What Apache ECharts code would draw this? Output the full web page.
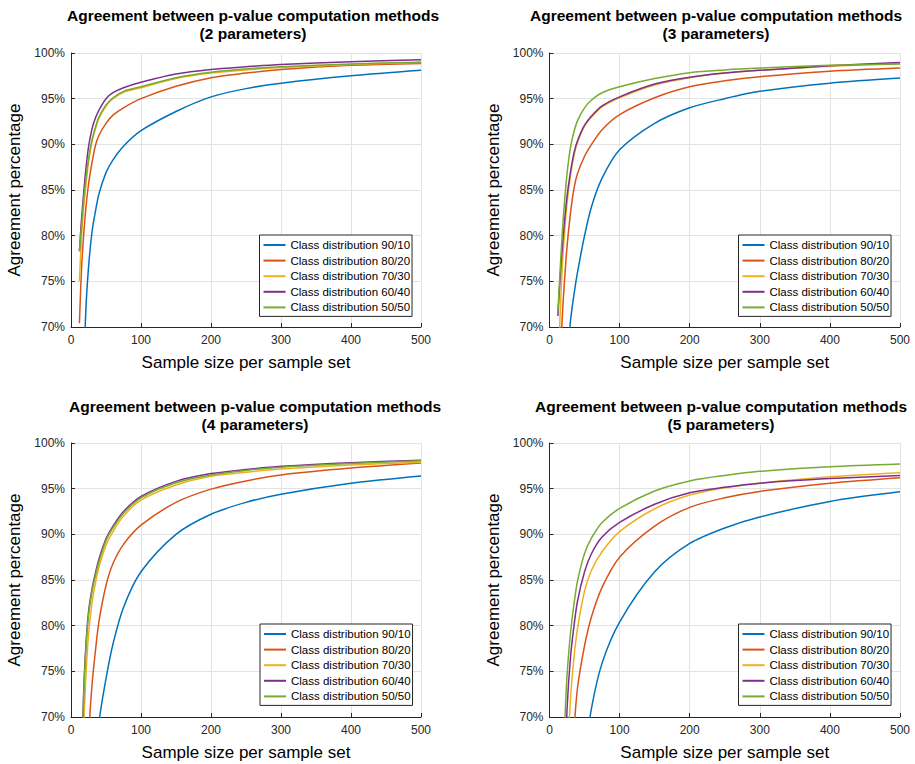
<!DOCTYPE html>
<html>
<head>
<meta charset="utf-8">
<script src="https://cdn.jsdelivr.net/npm/echarts@6/dist/echarts.min.js"></script>
<style>
html,body{margin:0;padding:0;background:#ffffff;}
#chart{width:915px;height:764px;}
</style>
</head>
<body>
<div id="chart"></div>
<script>
// ---------------- DATA ----------------
const sampleSizes = [12, 15, 18, 21, 25, 30, 35, 40, 50, 60, 75, 100, 150, 200, 250, 300, 400, 500];
const classLabels = ['Class distribution 90/10', 'Class distribution 80/20', 'Class distribution 70/30', 'Class distribution 60/40', 'Class distribution 50/50'];
const panelTitles = ['(2 parameters)', '(3 parameters)', '(4 parameters)', '(5 parameters)'];
const mainTitle = 'Agreement between p-value computation methods';
const xTickValues = [0, 100, 200, 300, 400, 500];
const yTickValues = [70, 75, 80, 85, 90, 95, 100];

// 2 parameters
const p2_9010 = [44, 55, 63.5, 71.5, 76.5, 80.4, 82.7, 84.6, 86.9, 88.3, 89.8, 91.5, 93.6, 95.2, 96.1, 96.7, 97.5, 98.1];
const p2_8020 = [70.4, 76.3, 80, 82.8, 85.6, 88, 89.9, 91, 92.3, 93.2, 94.0, 95.0, 96.35, 97.3, 97.8, 98.2, 98.65, 98.85];
const p2_7030 = [75, 79.8, 83, 85.3, 88, 90.3, 91.7, 92.85, 94.2, 95.0, 95.7, 96.2, 97.2, 97.8, 98.15, 98.4, 98.75, 98.95];
const p2_6040 = [78.3, 81.8, 84.6, 87.1, 89.7, 91.7, 92.9, 93.75, 95, 95.65, 96.2, 96.8, 97.7, 98.2, 98.5, 98.75, 99.05, 99.25];
const p2_5050 = [78.3, 81, 83.8, 86, 88.4, 90.5, 91.9, 93.0, 94.3, 95.1, 95.8, 96.3, 97.3, 97.9, 98.25, 98.5, 98.8, 99.0];

// 3 parameters
const p3_9010 = [44, 51, 57, 62, 66.5, 70.7, 73.6, 76, 80, 83.2, 86.3, 89.4, 92.3, 94.0, 95.0, 95.8, 96.7, 97.25];
const p3_8020 = [60, 65.5, 70.8, 74.6, 78.8, 82.5, 85.2, 86.8, 88.7, 90, 91.6, 93.25, 95.1, 96.3, 96.95, 97.4, 98.0, 98.35];
const p3_7030 = [64, 71, 76.3, 79.8, 83.5, 86.6, 88.8, 90.2, 92.0, 93.0, 94.1, 95.1, 96.5, 97.3, 97.8, 98.1, 98.55, 98.85];
const p3_6040 = [71.2, 75.2, 78.4, 81.2, 84.3, 87, 89.1, 90.4, 92.1, 93.1, 94.2, 95.2, 96.6, 97.35, 97.8, 98.1, 98.6, 98.95];
const p3_5050 = [71.7, 76, 80, 83.3, 86.8, 89.7, 91.4, 92.6, 94.0, 94.85, 95.65, 96.3, 97.2, 97.85, 98.15, 98.35, 98.65, 98.8];

// 4 parameters
const p4_9010 = [10, 28, 38, 46, 54, 60.5, 65.5, 69.5, 74.2, 78, 82, 85.9, 90.0, 92.2, 93.5, 94.4, 95.6, 96.4];
const p4_8020 = [37, 45, 52, 59, 67.5, 73.5, 77.3, 80.5, 84.4, 86.8, 88.9, 91.0, 93.5, 94.95, 95.85, 96.5, 97.25, 97.8];
const p4_7030 = [52, 60, 68.5, 74, 79, 82.5, 84.7, 86.4, 88.8, 90.3, 92.0, 93.75, 95.4, 96.35, 96.8, 97.15, 97.6, 97.9];
const p4_6040 = [55, 64.5, 72.5, 77.5, 81.5, 84, 85.8, 87.3, 89.5, 90.9, 92.5, 94.15, 95.8, 96.65, 97.1, 97.45, 97.85, 98.1];
const p4_5050 = [54.5, 64, 72, 77, 81.1, 83.7, 85.5, 87.0, 89.3, 90.7, 92.3, 94.0, 95.65, 96.5, 97.0, 97.35, 97.75, 98.05];

// 5 parameters
const p5_9010 = [5, 12, 20, 27, 35, 44, 51, 57, 65.5, 71, 75.9, 80.4, 85.9, 89.0, 90.7, 91.9, 93.6, 94.65];
const p5_8020 = [10, 20, 33, 42, 53, 62, 68.6, 73.2, 77.8, 81, 84.2, 87.5, 90.9, 92.95, 94.0, 94.7, 95.6, 96.2];
const p5_7030 = [5, 22, 38, 50, 64, 72, 76.6, 79.7, 83.8, 86.1, 88.1, 90.3, 92.8, 94.3, 95.1, 95.6, 96.3, 96.75];
const p5_6040 = [26, 40, 52, 62, 70.8, 76.6, 80, 82.7, 85.9, 87.9, 89.7, 91.3, 93.3, 94.55, 95.15, 95.6, 96.1, 96.45];
const p5_5050 = [35, 47, 58, 67.5, 74.5, 79.2, 82.4, 84.9, 87.9, 89.6, 91.3, 92.85, 94.75, 95.85, 96.45, 96.9, 97.4, 97.7];

// ---------------- LAYOUT / STYLE ----------------
const panelSeries = [
  [p2_9010, p2_8020, p2_7030, p2_6040, p2_5050],
  [p3_9010, p3_8020, p3_7030, p3_6040, p3_5050],
  [p4_9010, p4_8020, p4_7030, p4_6040, p4_5050],
  [p5_9010, p5_8020, p5_7030, p5_6040, p5_5050]
];
const colors = ['#0072BD', '#D95319', '#EDB120', '#7E2F8E', '#77AC30'];
const grids = [
  {left: 71, top: 53, width: 350, height: 274},
  {left: 549.5, top: 53, width: 350.5, height: 274},
  {left: 71, top: 443, width: 350, height: 274},
  {left: 549.5, top: 443, width: 350.5, height: 274}
];
const titleCenters = [[253, 15], [716, 15], [255, 406], [721, 406]];
const legendPos = [[259.5, 235], [738.5, 235], [260, 624], [738.5, 624]];
const FONT = '"Liberation Sans", Arial, Helvetica, sans-serif';
const AXIS_COLOR = '#262626';

const option = {
  animation: false,
  color: colors,
  grid: grids.map(g => Object.assign({containLabel: false}, g)),
  xAxis: grids.map((g, i) => ({
    type: 'value', gridIndex: i, min: xTickValues[0], max: xTickValues[xTickValues.length - 1], interval: 100,
    name: 'Sample size per sample set', nameLocation: 'middle', nameGap: 27,
    nameTextStyle: {fontSize: 17, color: '#000', fontFamily: FONT},
    axisLine: {show: true, onZero: false, lineStyle: {color: AXIS_COLOR, width: 1}},
    axisTick: {show: true, inside: true, length: 4, lineStyle: {color: AXIS_COLOR}},
    axisLabel: {color: AXIS_COLOR, fontSize: 12, fontFamily: FONT, margin: 7},
    splitLine: {show: true, lineStyle: {color: '#e3e3e3', width: 1}}
  })),
  yAxis: grids.map((g, i) => ({
    type: 'value', gridIndex: i, min: yTickValues[0], max: yTickValues[yTickValues.length - 1], interval: 5,
    name: 'Agreement percentage', nameLocation: 'middle', nameGap: 48,
    nameTextStyle: {fontSize: 17, color: '#000', fontFamily: FONT},
    axisLine: {show: true, onZero: false, lineStyle: {color: AXIS_COLOR, width: 1}},
    axisTick: {show: true, inside: true, length: 4, lineStyle: {color: AXIS_COLOR}},
    axisLabel: {color: AXIS_COLOR, fontSize: 12, fontFamily: FONT, margin: 6, formatter: '{value}%'},
    splitLine: {show: true, lineStyle: {color: '#e3e3e3', width: 1}}
  })),
  legend: legendPos.map(p => ({
    data: classLabels, orient: 'vertical', left: p[0], top: p[1],
    icon: 'rect', itemWidth: 22, itemHeight: 2, itemGap: 1.6, padding: [3, 2, 2, 4],
    borderColor: AXIS_COLOR, borderWidth: 1, backgroundColor: '#ffffff', borderRadius: 0,
    textStyle: {fontSize: 11.5, lineHeight: 14, color: '#000', fontFamily: FONT},
    selectedMode: false
  })),
  graphic: titleCenters.flatMap((c, i) => [
    {type: 'text', x: c[0], y: c[1], style: {text: mainTitle, align: 'center', verticalAlign: 'middle', font: 'bold 15.5px ' + FONT, fill: '#000'}},
    {type: 'text', x: c[0], y: c[1] + 18, style: {text: panelTitles[i], align: 'center', verticalAlign: 'middle', font: 'bold 15.5px ' + FONT, fill: '#000'}}
  ]),
  series: []
};

panelSeries.forEach((list, pi) => {
  list.forEach((vals, si) => {
    option.series.push({
      type: 'line', name: classLabels[si], xAxisIndex: pi, yAxisIndex: pi,
      data: sampleSizes.map((x, k) => [x, vals[k]]),
      symbol: 'none', smooth: 0.3, clip: true,
      lineStyle: {width: 1.5, color: colors[si]}, itemStyle: {color: colors[si]},
      emphasis: {disabled: true}, silent: true, z: 2 + si
    });
  });
});

const chart = echarts.init(document.getElementById('chart'), null, {renderer: 'svg'});
chart.setOption(option);
</script>
</body>
</html>
